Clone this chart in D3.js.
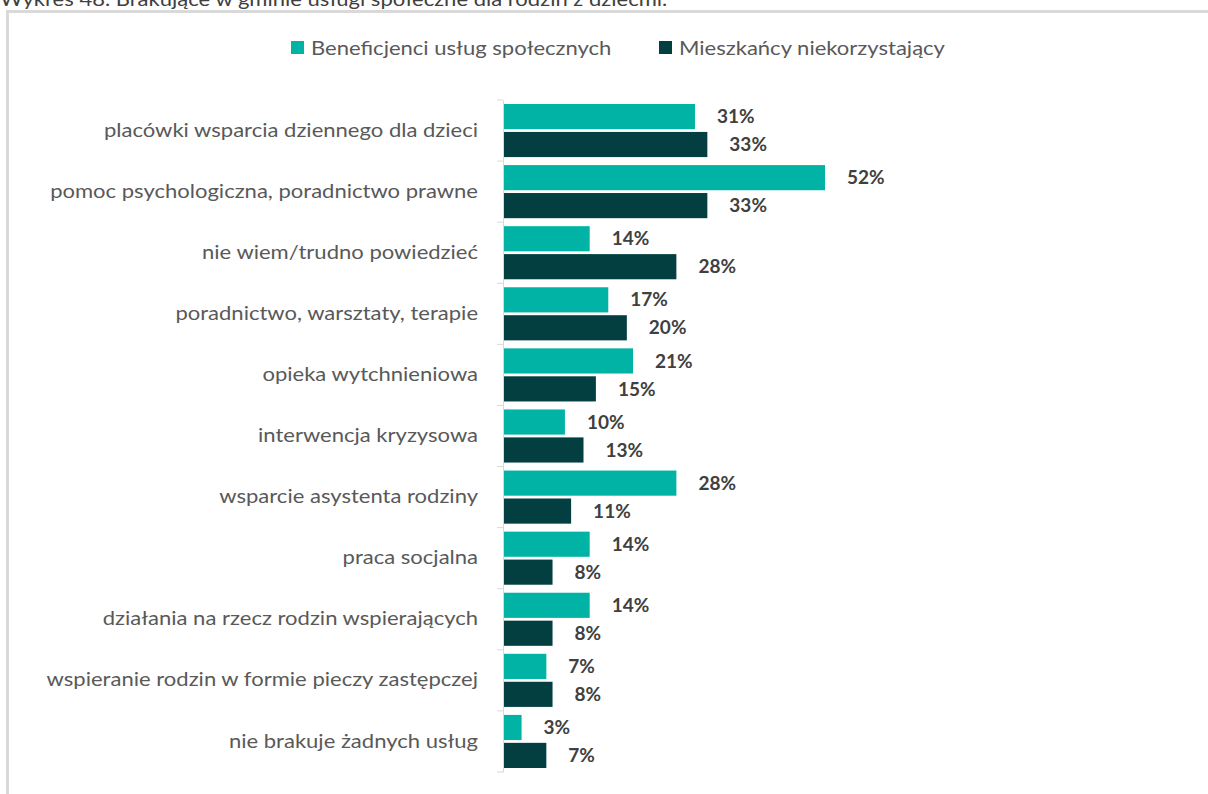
<!DOCTYPE html>
<html>
<head>
<meta charset="utf-8">
<script src="https://cdn.jsdelivr.net/npm/d3@7"></script>
<style>
  body { margin: 0; background: #fff; overflow: hidden; }
  svg { display: block; font-family: Lato, "Open Sans", sans-serif; }
</style>
</head>
<body>
<div id="chart"></div>
<script>
// data
const categories = [
  "placówki wsparcia dziennego dla dzieci",
  "pomoc psychologiczna, poradnictwo prawne",
  "nie wiem/trudno powiedzieć",
  "poradnictwo, warsztaty, terapie",
  "opieka wytchnieniowa",
  "interwencja kryzysowa",
  "wsparcie asystenta rodziny",
  "praca socjalna",
  "działania na rzecz rodzin wspierających",
  "wspieranie rodzin w formie pieczy zastępczej",
  "nie brakuje żadnych usług"
];
const beneficiaries = [31, 52, 14, 17, 21, 10, 28, 14, 14, 7, 3];
const residents = [33, 33, 28, 20, 15, 13, 11, 8, 8, 8, 7];
const seriesNames = ["Beneficjenci usług społecznych", "Mieszkańcy niekorzystający"];
const colors = ["#00b3a4", "#033f40"];

const W = 1208, H = 794;
const stretch = 1.16; // the original font is wider than Lato
const svg = d3.select("#chart").append("svg").attr("width", W).attr("height", H);

// title, mostly cut off at the top
svg.append("text")
  .attr("transform", `translate(0,6) scale(${stretch},1)`)
  .attr("font-size", 19).attr("fill", "#404040")
  .text("Wykres 48. Brakujące w gminie usługi społeczne dla rodzin z dziećmi.");

// chart frame
svg.append("rect")
  .attr("x", 7.5).attr("y", 11.5).attr("width", W).attr("height", H)
  .attr("fill", "none").attr("stroke", "#d9d9d9").attr("stroke-width", 3);

const x0 = 503;
const x = d3.scaleLinear().domain([0, 52]).range([x0, 825]);
const y = d3.scaleBand().domain(categories).range([100, 772]);
const ySub = d3.scaleBand().domain([0, 1]).range([4, y.bandwidth() - 4]).paddingInner(0.1);

const rows = categories.map((c, i) => ({ cat: c, vals: [beneficiaries[i], residents[i]] }));

const g = svg.selectAll("g.row").data(rows).join("g")
  .attr("class", "row")
  .attr("transform", d => `translate(0,${y(d.cat)})`);

g.selectAll("rect").data(d => d.vals).join("rect")
  .attr("x", x0)
  .attr("y", (d, i) => ySub(i))
  .attr("width", d => x(d) - x0)
  .attr("height", ySub.bandwidth())
  .attr("fill", (d, i) => colors[i]);

g.selectAll("text.val").data(d => d.vals).join("text")
  .attr("class", "val")
  .attr("x", d => x(d) + 22)
  .attr("y", (d, i) => ySub(i) + ySub.bandwidth() / 2)
  .attr("dy", "0.35em")
  .attr("font-size", 19).attr("font-weight", "bold").attr("fill", "#404040")
  .text(d => d + "%");

// category axis
const axis = svg.append("g").attr("transform", `translate(${x0},0)`)
  .call(d3.axisLeft(y).tickSize(0).tickPadding(25));
axis.select(".domain").attr("stroke", "#d9d9d9");
axis.selectAll(".tick text")
  .attr("x", -25 / stretch)
  .attr("transform", `scale(${stretch},1)`)
  .attr("font-size", 19).attr("fill", "#595959")
  .attr("font-family", "Lato, 'Open Sans', sans-serif");
svg.append("g").selectAll("line")
  .data(d3.range(categories.length + 1))
  .join("line")
  .attr("x1", x0 - 6).attr("x2", x0)
  .attr("y1", i => 100 + i * y.step()).attr("y2", i => 100 + i * y.step())
  .attr("stroke", "#d9d9d9");

// legend
const legX = [291, 659];
const leg = svg.selectAll("g.leg").data(seriesNames).join("g")
  .attr("class", "leg")
  .attr("transform", (d, i) => `translate(${legX[i]},41)`);
leg.append("rect").attr("width", 13).attr("height", 13).attr("fill", (d, i) => colors[i]);
leg.append("text")
  .attr("transform", `translate(20,7) scale(${stretch},1)`)
  .attr("dy", "0.35em")
  .attr("font-size", 19).attr("fill", "#595959").text(d => d);
</script>
</body>
</html>
